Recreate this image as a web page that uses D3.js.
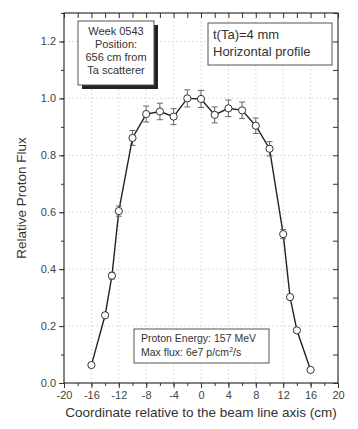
<!DOCTYPE html>
<html>
<head>
<meta charset="utf-8">
<script src="https://cdn.jsdelivr.net/npm/d3@7/dist/d3.min.js"></script>
<style>
  body { margin: 0; background: #fff; }
  text { font-family: 'Liberation Sans', Arial, sans-serif; }
</style>
</head>
<body>
<div id="chart"></div>
<script>
// beam profile, horizontal
const positions = [-16, -14, -13, -12, -10, -8, -6, -4, -2, 0, 2, 4, 6, 8, 10, 12, 13, 14, 16]
const flux = [0.063, 0.238, 0.377, 0.604, 0.861, 0.945, 0.954, 0.936, 1.0, 0.998, 0.942, 0.965, 0.958, 0.904, 0.823, 0.523, 0.302, 0.185, 0.046]
const fluxErr = [0.002, 0.007, 0.012, 0.018, 0.026, 0.028, 0.029, 0.028, 0.03, 0.03, 0.028, 0.029, 0.029, 0.027, 0.025, 0.016, 0.009, 0.006, 0.001]

const xTicks = [-20, -16, -12, -8, -4, 0, 4, 8, 12, 16, 20]
const xMinor = d3.range(-20, 21, 2)
const yTicks = [0, 0.2, 0.4, 0.6, 0.8, 1.0, 1.2]
const yMinor = d3.range(0, 1.31, 0.1)

const infoLines = ['Week 0543', 'Position:', '656 cm from', 'Ta scatterer']
const profileLines = ['t(Ta)=4 mm', 'Horizontal profile']

const W = 358
const H = 429
const margin = { top: 13, right: 20, bottom: 46, left: 64 }
const width = W - margin.left - margin.right
const height = H - margin.top - margin.bottom

const svg = d3
  .select('#chart')
  .append('svg')
  .attr('width', W)
  .attr('height', H)

const g = svg.append('g').attr('transform', `translate(${margin.left},${margin.top})`)

const x = d3.scaleLinear().domain([-20, 20]).range([0, width])
const y = d3.scaleLinear().domain([0, 1.3]).range([height, 0])

// grid
g.selectAll('.gx')
  .data(xTicks.slice(1, -1))
  .enter()
  .append('line')
  .attr('x1', (d) => x(d))
  .attr('x2', (d) => x(d))
  .attr('y1', 0)
  .attr('y2', height)
  .attr('stroke', '#ddd')
  .attr('stroke-dasharray', '2,2')
g.selectAll('.gy')
  .data(yTicks.slice(1))
  .enter()
  .append('line')
  .attr('x1', 0)
  .attr('x2', width)
  .attr('y1', (d) => y(d))
  .attr('y2', (d) => y(d))
  .attr('stroke', '#ddd')
  .attr('stroke-dasharray', '2,2')

// axes
const axisColor = '#333'
const styleAxis = (sel) => {
  sel.select('.domain').remove()
  sel.selectAll('line').attr('stroke', axisColor)
  sel.selectAll('text').attr('fill', '#444').attr('font-size', 11)
}

g.append('g')
  .attr('transform', `translate(0,${height})`)
  .call(d3.axisBottom(x).tickValues(xMinor).tickSize(3).tickFormat(''))
  .call(styleAxis)
g.append('g')
  .attr('transform', `translate(0,${height})`)
  .call(d3.axisBottom(x).tickValues(xTicks).tickSize(5).tickPadding(3).tickFormat((d) => String(d)))
  .call(styleAxis)

g.append('g')
  .call(d3.axisTop(x).tickValues(xMinor).tickSize(-5).tickFormat(''))
  .call(styleAxis)

g.append('g')
  .call(d3.axisLeft(y).tickValues(yMinor).tickSize(3).tickFormat(''))
  .call(styleAxis)
g.append('g')
  .call(d3.axisLeft(y).tickValues(yTicks).tickSize(5).tickPadding(3).tickFormat(d3.format('.1f')))
  .call(styleAxis)

g.append('g')
  .attr('transform', `translate(${width},0)`)
  .call(d3.axisRight(y).tickValues(yMinor).tickSize(-5).tickFormat(''))
  .call(styleAxis)

g.append('rect')
  .attr('width', width)
  .attr('height', height)
  .attr('fill', 'none')
  .attr('stroke', axisColor)
  .attr('stroke-width', 1.2)

// axis titles
svg
  .append('text')
  .attr('x', margin.left + width / 2)
  .attr('y', 417)
  .attr('text-anchor', 'middle')
  .attr('font-size', 13.5)
  .attr('fill', '#333')
  .text('Coordinate relative to the beam line axis (cm)')

svg
  .append('text')
  .attr('transform', `translate(26,${margin.top + height / 2}) rotate(-90)`)
  .attr('text-anchor', 'middle')
  .attr('font-size', 13.5)
  .attr('fill', '#333')
  .text('Relative Proton Flux')

// data
const pts = positions.map((p, i) => ({ p, v: flux[i], e: fluxErr[i] }))

const line = d3
  .line()
  .x((d) => x(d.p))
  .y((d) => y(d.v))
g.append('path')
  .datum(pts)
  .attr('fill', 'none')
  .attr('stroke', '#222')
  .attr('stroke-width', 1.4)
  .attr('d', line)

const err = g.append('g').attr('stroke', '#666').attr('stroke-width', 1)
pts.forEach((d) => {
  err.append('line')
    .attr('x1', x(d.p)).attr('x2', x(d.p))
    .attr('y1', y(d.v - d.e)).attr('y2', y(d.v + d.e))
  ;[d.v - d.e, d.v + d.e].forEach((v) => {
    err.append('line')
      .attr('x1', x(d.p) - 3).attr('x2', x(d.p) + 3)
      .attr('y1', y(v)).attr('y2', y(v))
  })
})

g.selectAll('circle')
  .data(pts)
  .enter()
  .append('circle')
  .attr('cx', (d) => x(d.p))
  .attr('cy', (d) => y(d.v))
  .attr('r', 3.6)
  .attr('fill', '#fff')
  .attr('stroke', '#333')
  .attr('stroke-width', 1)

// info box with drop shadow
svg.append('rect')
  .attr('x', 82).attr('y', 25).attr('width', 76).attr('height', 64)
  .attr('fill', '#222')
svg.append('rect')
  .attr('x', 78).attr('y', 21).attr('width', 76).attr('height', 64)
  .attr('fill', '#fff').attr('stroke', '#555')
svg.append('g')
  .selectAll('text')
  .data(infoLines)
  .enter()
  .append('text')
  .attr('x', 116)
  .attr('y', (d, i) => 35 + i * 13)
  .attr('text-anchor', 'middle')
  .attr('font-size', 11)
  .attr('fill', '#333')
  .text((d) => d)

// profile box
svg.append('rect')
  .attr('x', 208).attr('y', 23).attr('width', 124).attr('height', 42)
  .attr('fill', '#fff').attr('stroke', '#555')
svg.append('g')
  .selectAll('text')
  .data(profileLines)
  .enter()
  .append('text')
  .attr('x', 213)
  .attr('y', (d, i) => 39 + i * 16.5)
  .attr('font-size', 13)
  .attr('fill', '#333')
  .text((d) => d)

// energy box
svg.append('rect')
  .attr('x', 134).attr('y', 329).attr('width', 135).attr('height', 34)
  .attr('fill', '#fff').attr('stroke', '#555')
svg.append('text')
  .attr('x', 141).attr('y', 342).attr('font-size', 10.5).attr('fill', '#333')
  .text('Proton Energy: 157 MeV')
const fluxText = svg.append('text')
  .attr('x', 141).attr('y', 356).attr('font-size', 10.5).attr('fill', '#333')
fluxText.append('tspan').text('Max flux: 6e7 p/cm')
fluxText.append('tspan').attr('dy', -4).attr('font-size', 7).text('2')
fluxText.append('tspan').attr('dy', 4).text('/s')
</script>
</body>
</html>
